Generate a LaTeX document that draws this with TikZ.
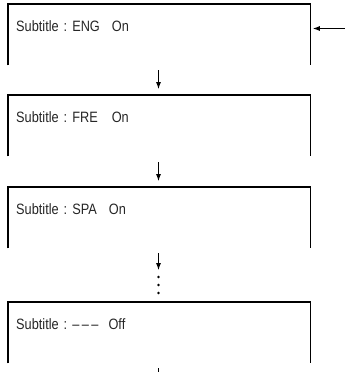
\documentclass[tikz,border=0pt]{standalone}
\usepackage{fontspec}
\setmainfont[FakeStretch=0.85]{Liberation Sans}
\usetikzlibrary{positioning,arrows.meta}

\begin{document}
\begin{tikzpicture}[x=1pt,y=-1pt,
    screen/.style={minimum width=302pt,minimum height=61pt,inner sep=0pt,anchor=north west},
    msg/.style={anchor=base west,inner sep=0pt,font=\fontsize{15}{17}\selectfont,text=black!85},
    frame/.style={line width=1.6pt,line join=miter},
    flow/.style={line width=0.8pt,-{Latex[length=7pt,width=5pt]}}]

	\useasboundingbox (0,0) rectangle (345,372);

	% screens
	\node[screen] (eng) at (8,4) {};
	\node[screen] (fre) at (8,95) {};
	\node[screen] (spa) at (8,187) {};
	\node[screen] (off) at (8,302) {};

	\draw[frame] (eng.south west) |- (eng.north east) -- (eng.south east);
	\draw[frame] (fre.south west) |- (fre.north east) -- (fre.south east);
	\draw[frame] (spa.south west) |- (spa.north east) -- (spa.south east);
	\draw[frame] (off.south west) |- (off.north east) -- (off.south east);

	\node[msg] (engtxt) at (16,31)  {Subtitle\hspace{5pt}:\hspace{5pt}ENG\hspace{12pt}On};
	\node[msg] (fretxt) at (16,122) {Subtitle\hspace{5pt}:\hspace{5pt}FRE\hspace{14pt}On};
	\node[msg] (spatxt) at (16,214) {Subtitle\hspace{5pt}:\hspace{5pt}SPA\hspace{12pt}On};
	\node[msg] (offtxt) at (16,329) {Subtitle\hspace{5pt}:\hspace{5pt}–\,–\,–\hspace{10pt}Off};

	% arrows
	\coordinate (in) at (345,28.5);
	\coordinate (a1) at (158.5,70);  \coordinate (b1) at (158.5,89);
	\coordinate (a2) at (158.5,162); \coordinate (b2) at (158.5,181);
	\coordinate (a3) at (158.5,253); \coordinate (b3) at (158.5,270);
	\coordinate (a4) at (158.5,368); \coordinate (b4) at (158.5,385);

	\draw[flow,shorten >=2.5pt] (in) -- (in -| eng.east);
	\draw[flow] (a1) -- (b1);
	\draw[flow] (a2) -- (b2);
	\draw[flow] (a3) -- (b3);
	\draw[flow] (a4) -- (b4);

	\foreach \y in {277,285,293}
		\fill (158.5,\y) circle (1.3pt);

\end{tikzpicture}
\end{document}
